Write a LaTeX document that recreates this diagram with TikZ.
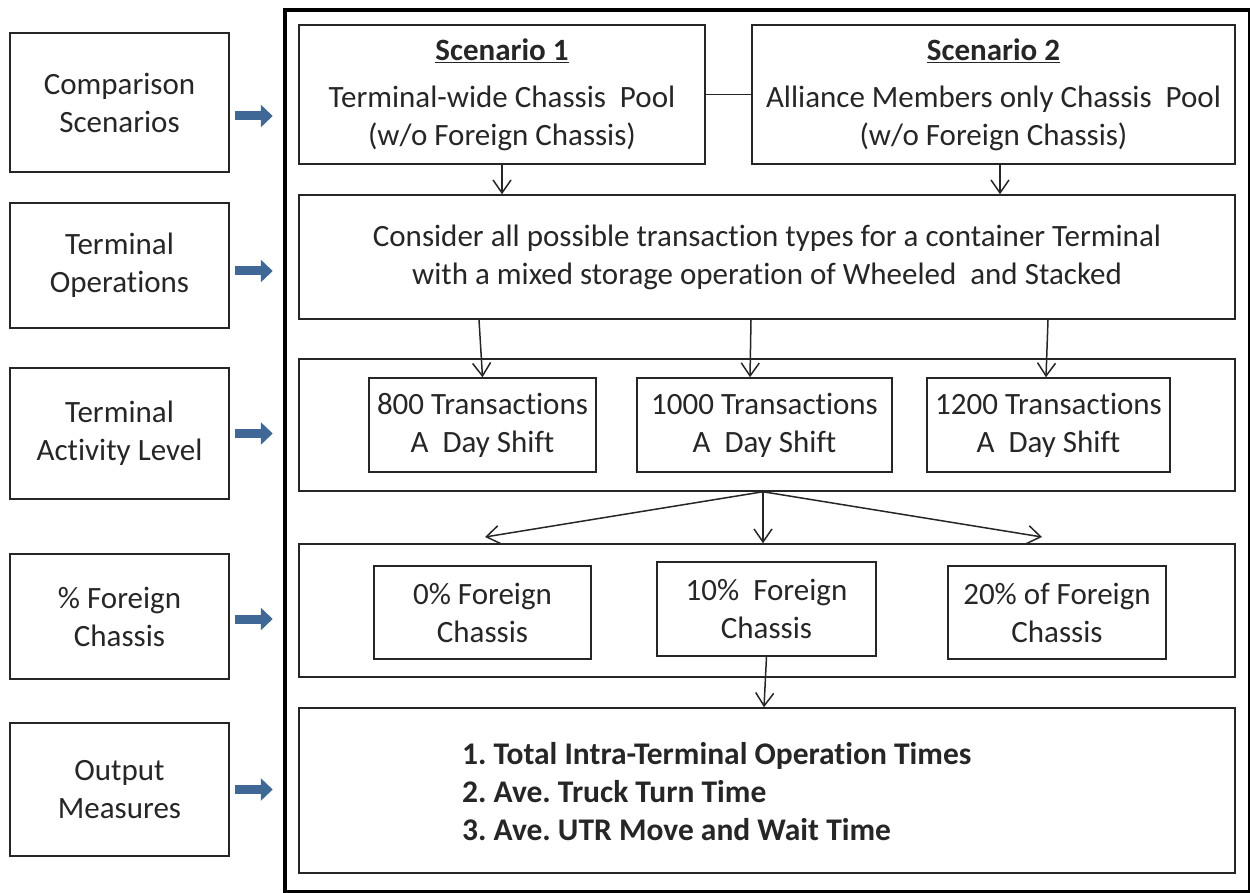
\documentclass[tikz,border=0pt]{standalone}
\usepackage{fontspec}
\setmainfont{Carlito}[Ligatures=NoCommon]
\usetikzlibrary{arrows.meta}
\definecolor{ink}{HTML}{262626}
\definecolor{arrowblue}{HTML}{3F6896}
\frenchspacing
\begin{document}
\begin{tikzpicture}[x=1pt,y=-1pt,
  every node/.style={font=\fontsize{31}{38}\selectfont, text=ink},
  box/.style={draw=ink, line width=1.5pt, rectangle, inner sep=0pt, align=center},
  flow/.style={draw=ink, line width=1.5pt, -{Straight Barb[length=13pt,width=18pt]}},
  link/.style={draw=ink, line width=1.5pt},
  sidearrow/.style={draw=arrowblue, line width=9pt, -{Triangle[length=12pt,width=22pt]}},
]
\useasboundingbox (0,0) rectangle (1250,893);

% outer frame around the study design
\draw[line width=4pt, black] (285,10) rectangle (1249.5,892);

% stage labels on the left
\node[box, minimum width=219pt, minimum height=139pt] (lb1) at (119.5,102.5) {Comparison\\Scenarios};
\node[box, minimum width=219pt, minimum height=125pt] (lb2) at (119.5,265.5) {Terminal\\Operations};
\node[box, minimum width=219pt, minimum height=131pt] (lb3) at (119.5,433.5) {Terminal\\Activity Level};
\node[box, minimum width=219pt, minimum height=125pt] (lb4) at (119.5,616.5) {\% Foreign\\Chassis};
\node[box, minimum width=219pt, minimum height=133pt] (lb5) at (119.5,789.5) {Output\\Measures};

% scenarios
\node[box, minimum width=406pt, minimum height=139pt] (sc1) at (502,94.5)
  {\textbf{\underline{Scenario 1}}\\[9pt]Terminal-wide Chassis~ Pool\\(w/o Foreign Chassis)};
\node[box, minimum width=483pt, minimum height=139pt] (sc2) at (993.5,94.5)
  {\textbf{\underline{Scenario 2}}\\[9pt]Alliance Members only Chassis~ Pool\\(w/o Foreign Chassis)};

% terminal operations
\node[box, minimum width=936pt, minimum height=124pt] (ops) at (767,257)
  {Consider all possible transaction types for a container Terminal\\with a mixed storage operation of Wheeled~ and Stacked};

% activity levels
\node[box, minimum width=936pt, minimum height=132pt] (act) at (767,425) {};
\node[box, minimum width=227pt, minimum height=94pt] (a800) at (482.5,425) {800 Transactions\\A~ Day Shift};
\node[box, minimum width=255pt, minimum height=94pt] (a1000) at (764.5,425) {1000 Transactions\\A~ Day Shift};
\node[box, minimum width=243pt, minimum height=94pt] (a1200) at (1048.5,425) {1200 Transactions\\A~ Day Shift};

% foreign chassis shares
\node[box, minimum width=936pt, minimum height=133pt] (fc) at (767,610.5) {};
\node[box, minimum width=217pt, minimum height=93pt] (f0) at (482.5,612.5) {0\% Foreign\\Chassis};
\node[box, minimum width=219pt, minimum height=94pt] (f10) at (766.5,609) {10\%~ Foreign\\Chassis};
\node[box, minimum width=218pt, minimum height=93pt] (f20) at (1057,612.5) {20\% of Foreign\\Chassis};

% output measures
\node[box, minimum width=936pt, minimum height=165pt] (out) at (767,790.5) {};
\node[anchor=west, align=left, inner sep=0pt, font=\fontsize{31.5}{38}\selectfont\bfseries] (items) at (462,792)
  {1. Total Intra-Terminal Operation Times\\2. Ave. Truck Turn Time\\3. Ave. UTR Move and Wait Time};

% blue arrows from the stage labels into the frame
\draw[sidearrow] ([xshift=5pt,yshift=-13.5pt]lb1.east) -- ++(38,0);
\draw[sidearrow] ([xshift=5pt,yshift=-5.5pt]lb2.east) -- ++(38,0);
\draw[sidearrow] ([xshift=5pt]lb3.east) -- ++(38,0);
\draw[sidearrow] ([xshift=5pt,yshift=-2.5pt]lb4.east) -- ++(38,0);
\draw[sidearrow] ([xshift=5pt]lb5.east) -- ++(38,0);

% connectors
\draw[link] (sc1.east) -- (sc2.west);
\draw[flow] (sc1.south) -- (sc1.south |- ops.north);
\draw[flow] ([xshift=6.5pt]sc2.south) -- ([xshift=6.5pt]sc2.south |- ops.north);

\draw[flow] ([xshift=-288pt]ops.south) -- (a800.north);
\draw[flow] ([xshift=-16pt]ops.south) -- ([xshift=-14.5pt]a1000.north);
\draw[flow] ([xshift=281pt]ops.south) -- ([xshift=-2.5pt]a1200.north);

\coordinate (split) at ([xshift=-4pt]act.south);
\coordinate (tipL) at (485,537);
\coordinate (tipR) at (1042,537);
\draw[flow] (split) -- (tipL);
\draw[flow] (split) -- ([xshift=-4pt]fc.north);
\draw[flow] (split) -- (tipR);

\draw[flow] (f10.south) -- ([xshift=-3pt]out.north);
\end{tikzpicture}
\end{document}
